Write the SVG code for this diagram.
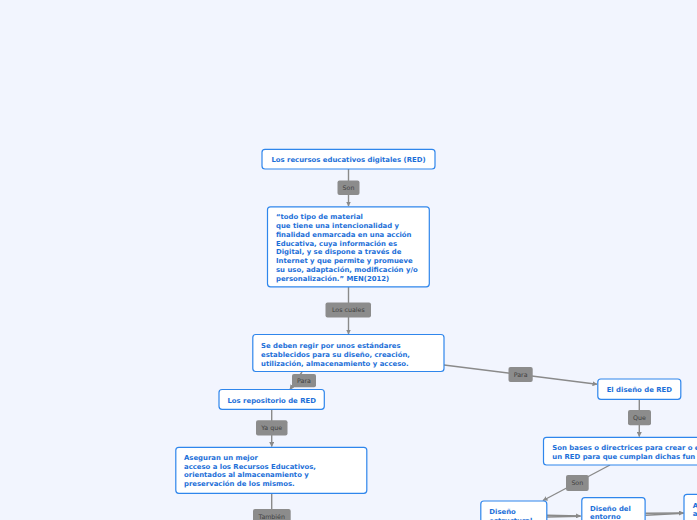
<svg xmlns="http://www.w3.org/2000/svg" width="697" height="520" viewBox="0 0 697 520">
<style>
.bg{fill:#f2f5fe}
.node{fill:#ffffff;stroke:#2f86ec;stroke-width:1.2}
.t{font-family:"DejaVu Sans",Verdana,sans-serif;font-weight:bold;font-size:6.9px;fill:#1c6fd8}
.c{stroke:#8a8a8a;stroke-width:1.4;fill:none}
.lb{fill:#8c8c8c}
.lt{font-family:"DejaVu Sans",Verdana,sans-serif;font-size:6.3px;fill:#3e3e3e;text-anchor:middle}
</style>
<defs>
<marker id="ah" viewBox="0 0 10 10" refX="9" refY="5" markerWidth="5" markerHeight="5" orient="auto" markerUnits="userSpaceOnUse">
<path d="M0,0 L10,5 L0,10 z" fill="#8a8a8a"/>
</marker>
</defs>
<rect class="bg" x="0" y="0" width="697" height="520"/>
<g id="connectors">
<line class="c" x1="348.5" y1="169" x2="348.5" y2="206" marker-end="url(#ah)"/>
<line class="c" x1="348.5" y1="287" x2="348.5" y2="334" marker-end="url(#ah)"/>
<line class="c" x1="302" y1="372" x2="290" y2="389.5" marker-end="url(#ah)"/>
<line class="c" x1="271.7" y1="409.5" x2="271.7" y2="446.5" marker-end="url(#ah)"/>
<line class="c" x1="271.7" y1="493.5" x2="271.7" y2="510"/>
<line class="c" x1="444" y1="365" x2="597" y2="384.3" marker-end="url(#ah)"/>
<line class="c" x1="639.3" y1="399.5" x2="639.3" y2="436.5" marker-end="url(#ah)"/>
<line class="c" x1="610" y1="465" x2="543" y2="500.5" marker-end="url(#ah)"/>
<line class="c" x1="547" y1="515.3" x2="580.5" y2="516" marker-end="url(#ah)"/>
<line class="c" x1="547" y1="517" x2="580.5" y2="516.2"/>
<line class="c" x1="645.5" y1="513.2" x2="683.5" y2="513" marker-end="url(#ah)"/>
<line class="c" x1="645.5" y1="515.2" x2="683.5" y2="513.2"/>
<rect class="lb" x="337.5" y="180.5" width="22" height="14.5" rx="2"/>
<text class="lt" x="348.5" y="190">Son</text>
<rect class="lb" x="325.5" y="302.5" width="45.5" height="15" rx="2"/>
<text class="lt" x="348.3" y="312.2">Los cuales</text>
<rect class="lb" x="292" y="374" width="24" height="13.3" rx="2"/>
<text class="lt" x="304" y="382.8">Para</text>
<rect class="lb" x="256" y="420.3" width="31.5" height="15.3" rx="2"/>
<text class="lt" x="271.7" y="430.1">Ya que</text>
<rect class="lb" x="253" y="509" width="37.7" height="14" rx="2"/>
<text class="lt" x="271.8" y="518.6">También</text>
<rect class="lb" x="508.5" y="367" width="24.2" height="15" rx="2"/>
<text class="lt" x="520.6" y="376.6">Para</text>
<rect class="lb" x="628" y="410" width="23" height="15.3" rx="2"/>
<text class="lt" x="639.5" y="419.8">Que</text>
<rect class="lb" x="566" y="475" width="22.7" height="16" rx="2"/>
<text class="lt" x="577.3" y="485.1">Son</text>
</g>
<g id="n1">
<rect class="node" x="262" y="149.3" width="173" height="19.7" rx="3"/>
<text class="t" x="348.5" y="162.4" text-anchor="middle">Los recursos educativos digitales (RED)</text>
</g>
<g id="n2">
<rect class="node" x="267.5" y="206.8" width="161.8" height="80" rx="3"/>
<text class="t" x="276" y="219.2">“todo tipo de material</text>
<text class="t" x="276" y="228">que tiene una intencionalidad y</text>
<text class="t" x="276" y="236.7">finalidad enmarcada en una acción</text>
<text class="t" x="276" y="245.5">Educativa, cuya información es</text>
<text class="t" x="276" y="254.2">Digital, y se dispone a través de</text>
<text class="t" x="276" y="263">Internet y que permite y promueve</text>
<text class="t" x="276" y="271.7">su uso, adaptación, modificación y/o</text>
<text class="t" x="276" y="280.5">personalización.” MEN(2012)</text>
</g>
<g id="n3">
<rect class="node" x="252.8" y="334.5" width="191.2" height="37" rx="3"/>
<text class="t" x="261" y="348.2">Se deben regir por unos estándares</text>
<text class="t" x="261" y="356.8">establecidos para su diseño, creación,</text>
<text class="t" x="261" y="365.5">utilización, almacenamiento y acceso.</text>
</g>
<g id="n4">
<rect class="node" x="219" y="389.5" width="105.3" height="19.8" rx="3"/>
<text class="t" x="271.7" y="403.1" text-anchor="middle">Los repositorio de RED</text>
</g>
<g id="n5">
<rect class="node" x="175.8" y="447.3" width="191" height="46" rx="3"/>
<text class="t" x="184" y="460.2">Aseguran un mejor</text>
<text class="t" x="184" y="468.6">acceso a los Recursos Educativos,</text>
<text class="t" x="184" y="477.3">orientados al almacenamiento y</text>
<text class="t" x="184" y="486">preservación de los mismos.</text>
</g>
<g id="n6">
<rect class="node" x="597.8" y="379" width="83" height="20.3" rx="3"/>
<text class="t" x="639.3" y="391.7" text-anchor="middle">El diseño de RED</text>
</g>
<g id="n7">
<rect class="node" x="543.5" y="437.3" width="170" height="27.7" rx="3"/>
<text class="t" x="552.3" y="449.8">Son bases o directrices para crear o e</text>
<text class="t" x="552.3" y="458.5">un RED para que cumplan dichas fun</text>
</g>
<g id="n8">
<rect class="node" x="480.8" y="501" width="66" height="30" rx="3"/>
<text class="t" x="489.3" y="514.2">Diseño</text>
<text class="t" x="489.3" y="523">estructural</text>
</g>
<g id="n9">
<rect class="node" x="581.8" y="497.7" width="63.3" height="30" rx="3"/>
<text class="t" x="590" y="511.3">Diseño del</text>
<text class="t" x="590" y="519.4">entorno</text>
</g>
<g id="n10">
<rect class="node" x="684" y="494.3" width="30" height="35" rx="3"/>
<text class="t" x="692.7" y="507.5">A</text>
<text class="t" x="692.7" y="516">a</text>
</g>
</svg>
